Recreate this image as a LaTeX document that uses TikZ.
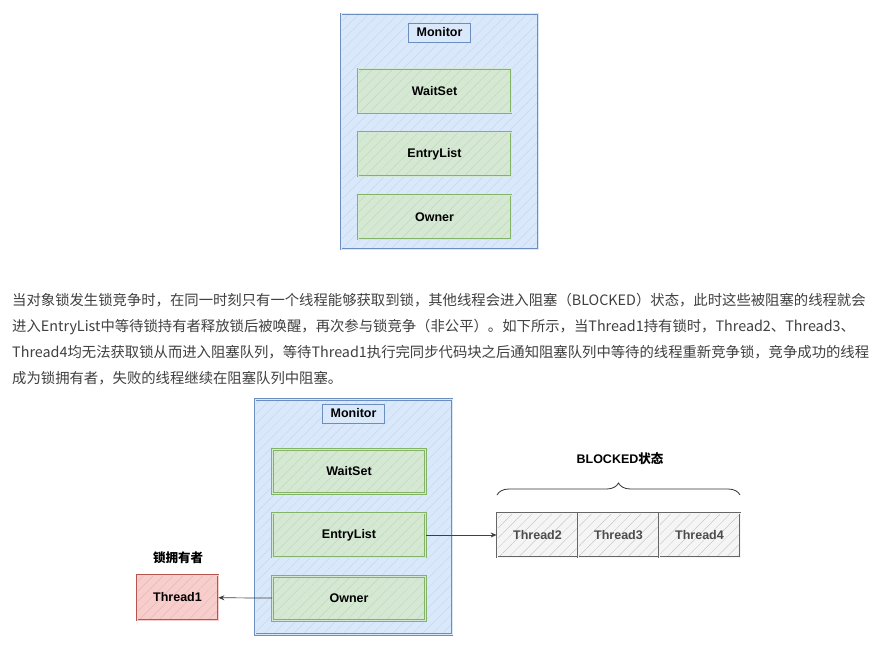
\documentclass[tikz,border=0pt]{standalone}
\usepackage{fontspec}
\setmainfont{Liberation Sans}
\newfontfamily\cjk{Noto Sans CJK SC}
\usetikzlibrary{arrows.meta, patterns.meta, decorations.pathreplacing}

\definecolor{monfill}{HTML}{DAE8FC}
\definecolor{monline}{HTML}{6C8EBF}
\definecolor{setfill}{HTML}{D5E8D4}
\definecolor{setline}{HTML}{82B366}
\definecolor{ownfill}{HTML}{F8CECC}
\definecolor{ownline}{HTML}{B85450}
\definecolor{blkfill}{HTML}{F5F5F5}
\definecolor{blkline}{HTML}{666666}
\definecolor{txtgray}{HTML}{404040}

\begin{document}
\begin{tikzpicture}[x=1pt, y=-1pt,
    box/.style n args={3}{rectangle, inner sep=0pt, draw=#2, double=#1, double distance=1pt, line width=.7pt,
      preaction={fill=#1}, preaction={pattern={Lines[angle=45, distance=7pt, line width=.3pt]}, pattern color=#2!#3},
      font=\fontsize{12.5}{15}\selectfont\bfseries},
    monitor/.style={box={monfill}{monline}{40}, minimum width=197pt, minimum height=235pt},
    tag/.style={rectangle, draw=monline, fill=monfill, line width=.7pt, minimum width=62pt,
      minimum height=19pt, inner sep=0pt, font=\fontsize{12.5}{15}\selectfont\bfseries},
    part/.style={box={setfill}{setline}{55}, minimum width=153pt, minimum height=44pt},
    owner/.style={box={ownfill}{ownline}{45}, minimum width=81pt, minimum height=45pt},
    blocked/.style={box={blkfill}{blkline}{45}, minimum width=81pt, minimum height=44pt, text=black!70},
    note/.style={inner sep=0pt, font=\fontsize{12.5}{15}\selectfont\bfseries},
    para/.style={anchor=base west, inner sep=0pt, text=txtgray, font=\cjk\fontsize{14.35}{26}\selectfont},
    arrow/.style={-{Stealth[length=6pt, width=5pt]}, draw=black!75, line width=.7pt},
    curly/.style={decorate, decoration={brace, amplitude=12pt}, draw=black!80, line width=.8pt},
  ]
  \fill[white] (0,0) rectangle (888,650);
  \useasboundingbox (0,0) rectangle (888,650);

  \node[monitor] (mon1)   at (439.5,131.5) {};
  \node[tag]     (tag1)   at (439.5,32.5)  {Monitor};
  \node[part]    (wait1)  at (434.5,91)    {WaitSet};
  \node[part]    (entry1) at (434.5,154)   {EntryList};
  \node[part]    (own1)   at (434.5,217)   {Owner};

  \node[para] (desc1) at (12,305) {当对象锁发生锁竞争时，在同一时刻只有一个线程能够获取到锁，其他线程会进入阻塞（BLOCKED）状态，此时这些被阻塞的线程就会};
  \node[para] (desc2) at (12,331) {进入EntryList中等待锁持有者释放锁后被唤醒，再次参与锁竞争（非公平）。如下所示，当Thread1持有锁时，Thread2、Thread3、};
  \node[para] (desc3) at (12,357) {Thread4均无法获取锁从而进入阻塞队列，等待Thread1执行完同步代码块之后通知阻塞队列中等待的线程重新竞争锁，竞争成功的线程};
  \node[para] (desc4) at (12,383) {成为锁拥有者，失败的线程继续在阻塞队列中阻塞。};

  \node[monitor] (mon2)   at (353.5,517)   {};
  \node[tag]     (tag2)   at (353.5,413.5) {Monitor};
  \node[part]    (wait2)  at (349,471.5)   {WaitSet};
  \node[part]    (entry2) at (349,535)     {EntryList};
  \node[part]    (own2)   at (349,598.5)   {Owner};

  \node[owner] (t1) at (177.5,597.5) {Thread1};
  \node[note]  (t1lbl) at (178,558) {\cjk 锁拥有者};

  \node[blocked] (t2) at (537.5,535) {Thread2};
  \node[blocked] (t3) at (618.5,535) {Thread3};
  \node[blocked] (t4) at (699.5,535) {Thread4};
  \coordinate (brl) at (497,495);
  \coordinate (brr) at (740,495);
  \node[note] (blk) at (620,459) {BLOCKED{\cjk 状态}};

  \draw[curly] (brl) -- (brr);
  \draw[arrow] (own2) -- (t1);
  \draw[arrow] (entry2) -- (t2);
\end{tikzpicture}
\end{document}
